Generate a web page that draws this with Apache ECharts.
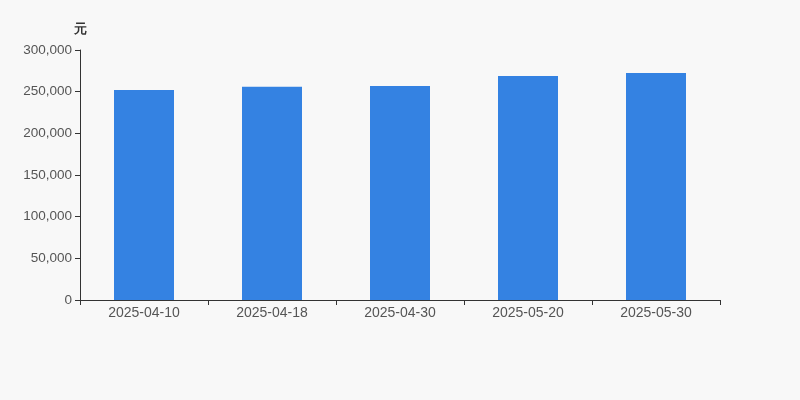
<!DOCTYPE html>
<html>
<head>
    <meta charset="utf-8">
    <script type="text/javascript" src="https://cdn.jsdelivr.net/npm/echarts@6/dist/echarts.min.js"></script>
    <style>
        html, body { margin: 0; padding: 0; background: #f8f8f8; }
    </style>
</head>
<body>

<div id="main" style="width: 800px;height:400px;"></div>

<script type="text/javascript">

    var dates = ['2025-04-10', '2025-04-18', '2025-04-30', '2025-05-20', '2025-05-30'];
    var amounts = [252000, 256000, 256800, 268800, 272400];

    var myChart = echarts.init(document.getElementById('main'));

    var option = {
        backgroundColor: '#f8f8f8',
        animation: false,
        grid: { left: 80, right: 80, top: 50, bottom: 100 },
        xAxis: {
            type: 'category',
            data: dates,
            axisLine: { lineStyle: { color: '#333' } },
            axisTick: { show: true, lineStyle: { color: '#333' } },
            axisLabel: { color: '#555', fontSize: 14, margin: 6, fontFamily: 'Arial, Liberation Sans' }
        },
        yAxis: {
            type: 'value',
            name: '元',
            nameGap: 14,
            nameTextStyle: { color: '#333', fontWeight: 'bold', fontSize: 13, align: 'center' },
            min: 0,
            max: 300000,
            interval: 50000,
            axisLine: { show: true, lineStyle: { color: '#333' } },
            axisTick: { show: true, lineStyle: { color: '#333' } },
            axisLabel: { color: '#555', fontSize: 13.5, fontFamily: 'Arial, Liberation Sans' },
            splitLine: { show: false }
        },
        series: [
            {
                type: 'bar',
                data: amounts,
                barWidth: 60,
                itemStyle: { color: '#3482e2' }
            }
        ]
    };
    myChart.setOption(option);
</script>

</body>
</html>
